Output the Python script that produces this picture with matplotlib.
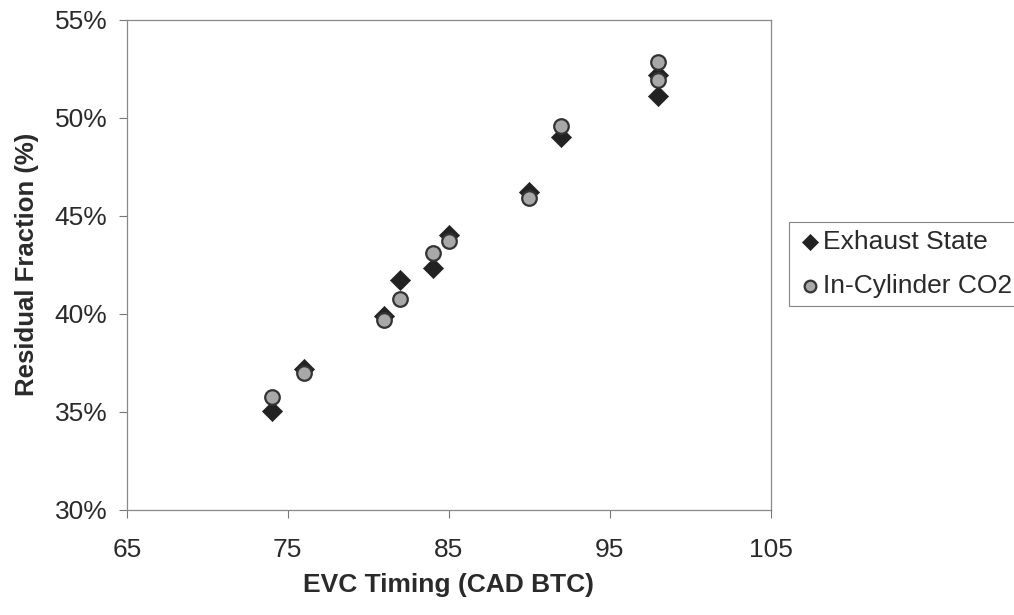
import matplotlib.pyplot as plt
from matplotlib.ticker import FuncFormatter

plt.rcParams['font.family'] = ['Liberation Sans', 'DejaVu Sans']

evc_exhaust = [74, 76, 81, 82, 84, 85, 90, 92, 98, 98]
rf_exhaust = [35.05, 37.2, 39.9, 41.7, 42.35, 44.0, 46.2, 49.0, 51.1, 52.2]

evc_co2 = [74, 76, 81, 82, 84, 85, 90, 92, 98, 98]
rf_co2 = [35.75, 37.0, 39.7, 40.75, 43.1, 43.7, 45.9, 49.6, 52.85, 51.9]

TEXT = '#2a2a2a'


def main():
    fig = plt.figure(figsize=(10.14, 6.15), dpi=100)
    ax = fig.add_axes([0.125, 0.171, 0.635, 0.797])

    ax.scatter(evc_exhaust, rf_exhaust, marker='D', s=105, color='#222222',
               edgecolors='#222222', linewidths=0.5, label='Exhaust State', zorder=3)
    ax.scatter(evc_co2, rf_co2, marker='o', s=110, color='#a8a8a8',
               edgecolors='#333333', linewidths=1.6, label='In-Cylinder CO2', zorder=4)

    ax.set_xlim(65, 105)
    ax.set_ylim(30, 55)
    ax.set_xticks([65, 75, 85, 95, 105])
    ax.set_yticks([30, 35, 40, 45, 50, 55])
    ax.yaxis.set_major_formatter(FuncFormatter(lambda v, p: f'{v:.0f}%'))
    ax.tick_params(labelsize=19, labelcolor=TEXT, direction='out', length=6,
                   color='#777777')
    ax.tick_params(axis='x', pad=14)
    ax.tick_params(axis='y', pad=8)

    for s in ax.spines.values():
        s.set_color('#888888')
        s.set_linewidth(0.9)

    ax.set_xlabel('EVC Timing (CAD BTC)', fontsize=19, fontweight='bold',
                  color=TEXT, labelpad=8)
    ax.set_ylabel('Residual Fraction (%)', fontsize=18.5, fontweight='bold',
                  color=TEXT, labelpad=11)

    leg = fig.legend(loc='upper left', bbox_to_anchor=(789 / 1014, 1 - 222 / 615),
                     fontsize=19, frameon=True, fancybox=False, handletextpad=0.0,
                     handlelength=1.0, borderpad=0.3, labelspacing=0.75,
                     markerscale=0.8, borderaxespad=0)
    leg.get_frame().set_edgecolor('#666666')
    leg.get_frame().set_linewidth(0.8)
    for t in leg.get_texts():
        t.set_color(TEXT)

    fig.savefig('out.png', dpi=100)


if __name__ == "__main__":
    main()
